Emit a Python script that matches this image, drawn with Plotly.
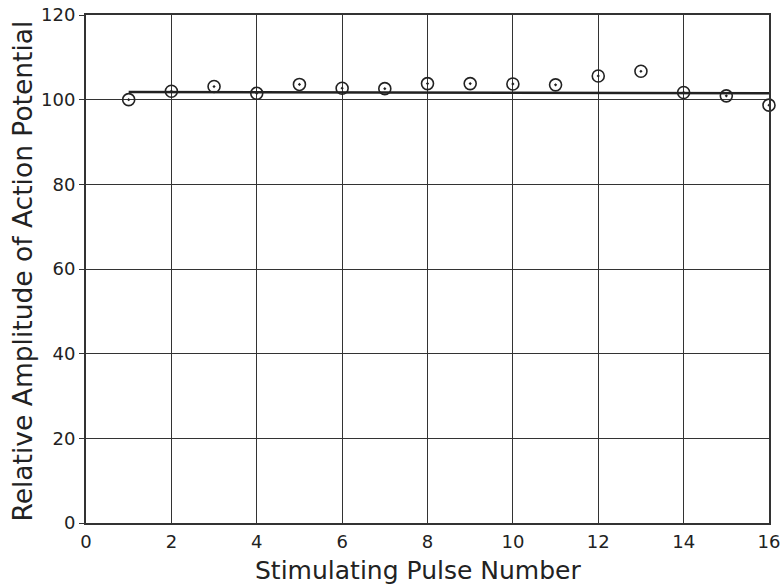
import plotly.graph_objects as go

pulse = list(range(1, 17))
amplitude = [100.0, 102.0, 103.1, 101.5, 103.6, 102.7, 102.6, 103.8,
             103.8, 103.7, 103.5, 105.6, 106.7, 101.7, 100.9, 98.7]
fit_x = [1, 16]
fit_y = [101.8, 101.5]
x_ticks = [0, 2, 4, 6, 8, 10, 12, 14, 16]
y_ticks = [0, 20, 40, 60, 80, 100, 120]
x_title = "Stimulating Pulse Number"
y_title = "Relative Amplitude of Action Potential"

FONT = "DejaVu Sans"

fig = go.Figure()
fig.add_trace(go.Scatter(x=fit_x, y=fit_y, mode="lines",
                         line=dict(color="#222", width=2.5), showlegend=False))
fig.add_trace(go.Scatter(x=pulse, y=amplitude, mode="markers",
                         marker=dict(symbol="circle-open-dot", size=12, color="#222",
                                     line=dict(width=1.6, color="#222")),
                         showlegend=False, cliponaxis=False))

fig.update_layout(
    width=780, height=586,
    margin=dict(l=86, r=11, t=15, b=63),
    paper_bgcolor="white", plot_bgcolor="white",
    font=dict(family=FONT, color="#222", size=18),
)
fig.update_xaxes(range=[0, 16], tickvals=x_ticks, ticktext=[str(v) for v in x_ticks],
                 showgrid=True, gridcolor="#333", gridwidth=1.2,
                 showline=True, linecolor="#333", linewidth=2, mirror=True,
                 ticks="", zeroline=False, automargin=False, ticklabelstandoff=1,
                 ticklabeloverflow="allow", tickfont=dict(size=18))
fig.update_yaxes(range=[0, 120], tickvals=y_ticks, ticktext=[str(v) for v in y_ticks],
                 showgrid=True, gridcolor="#333", gridwidth=1.2,
                 showline=True, linecolor="#333", linewidth=2, mirror=True,
                 ticks="outside", ticklen=5, tickcolor="#333", zeroline=False,
                 automargin=False, ticklabeloverflow="allow",
                 tickfont=dict(size=18))
fig.add_annotation(text=y_title, xref="paper", yref="paper", x=0, y=0.495,
                   xanchor="center", yanchor="middle", xshift=-63, textangle=-90,
                   showarrow=False, font=dict(size=26.5, family=FONT, color="#222"))
fig.add_annotation(text=x_title, xref="paper", yref="paper", x=0.486, y=0,
                   xanchor="center", yanchor="middle", yshift=-47,
                   showarrow=False, font=dict(size=25, family=FONT, color="#222"))

fig.write_html("out.html", config={"displayModeBar": False},
               post_script="document.body.style.margin='0';document.body.style.overflow='hidden';")
